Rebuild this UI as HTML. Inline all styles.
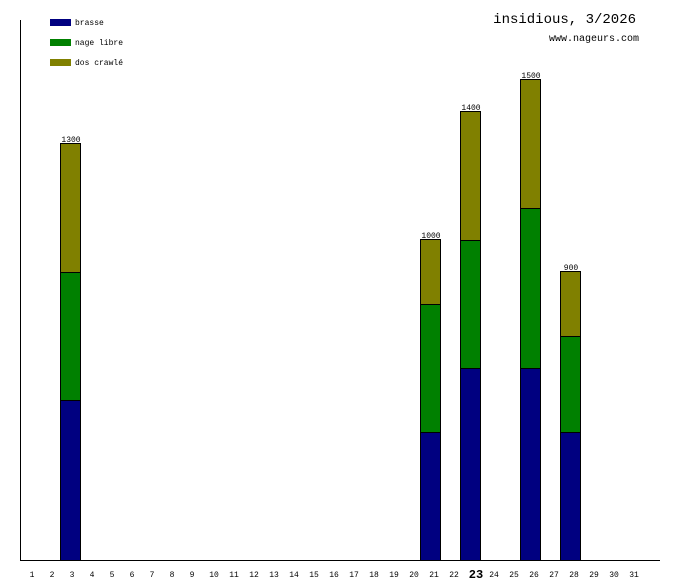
<!DOCTYPE html>
<html><head><style>body{margin:0;background:#fff}svg{display:block}</style></head><body>
<svg width="680" height="580" xmlns="http://www.w3.org/2000/svg" font-family="Liberation Mono, DejaVu Sans Mono, monospace" shape-rendering="crispEdges">
<rect width="680" height="580" fill="#fff"/>
<line x1="20.5" y1="20" x2="20.5" y2="560" stroke="#000"/>
<line x1="20" y1="560.5" x2="660" y2="560.5" stroke="#000"/>
<rect x="50" y="19" width="21" height="7" fill="#000080"/>
<rect x="50" y="39" width="21" height="7" fill="#008000"/>
<rect x="50" y="59" width="21" height="7" fill="#808000"/>
<g font-size="8" fill="#000">
<text x="75" y="25">brasse</text>
<text x="75" y="45">nage libre</text>
<text x="75" y="65">dos crawlé</text>
</g>
<text x="636" y="23" font-size="14" text-anchor="end">insidious, 3/2026</text>
<text x="639" y="41" font-size="10" text-anchor="end">www.nageurs.com</text>
<g stroke="#000" stroke-width="1">
<rect x="60.5" y="400.5" width="20" height="160" fill="#000080"/>
<rect x="60.5" y="272.5" width="20" height="128" fill="#008000"/>
<rect x="60.5" y="143.5" width="20" height="129" fill="#808000"/>
<rect x="420.5" y="432.5" width="20" height="128" fill="#000080"/>
<rect x="420.5" y="304.5" width="20" height="128" fill="#008000"/>
<rect x="420.5" y="239.5" width="20" height="65" fill="#808000"/>
<rect x="460.5" y="368.5" width="20" height="192" fill="#000080"/>
<rect x="460.5" y="240.5" width="20" height="128" fill="#008000"/>
<rect x="460.5" y="111.5" width="20" height="129" fill="#808000"/>
<rect x="520.5" y="368.5" width="20" height="192" fill="#000080"/>
<rect x="520.5" y="208.5" width="20" height="160" fill="#008000"/>
<rect x="520.5" y="79.5" width="20" height="129" fill="#808000"/>
<rect x="560.5" y="432.5" width="20" height="128" fill="#000080"/>
<rect x="560.5" y="336.5" width="20" height="96" fill="#008000"/>
<rect x="560.5" y="271.5" width="20" height="65" fill="#808000"/>
</g>
<g font-size="8" text-anchor="middle" fill="#000">
<text x="71" y="142">1300</text>
<text x="431" y="238">1000</text>
<text x="471" y="110">1400</text>
<text x="531" y="78">1500</text>
<text x="571" y="270">900</text>
</g>
<g font-size="8" text-anchor="middle" fill="#000">
<text x="32" y="577">1</text><text x="52" y="577">2</text><text x="72" y="577">3</text><text x="92" y="577">4</text><text x="112" y="577">5</text><text x="132" y="577">6</text><text x="152" y="577">7</text><text x="172" y="577">8</text><text x="192" y="577">9</text><text x="214" y="577">10</text><text x="234" y="577">11</text><text x="254" y="577">12</text><text x="274" y="577">13</text><text x="294" y="577">14</text><text x="314" y="577">15</text><text x="334" y="577">16</text><text x="354" y="577">17</text><text x="374" y="577">18</text><text x="394" y="577">19</text><text x="414" y="577">20</text><text x="434" y="577">21</text><text x="454" y="577">22</text><text x="476" y="578" font-size="12" font-weight="bold">23</text><text x="494" y="577">24</text><text x="514" y="577">25</text><text x="534" y="577">26</text><text x="554" y="577">27</text><text x="574" y="577">28</text><text x="594" y="577">29</text><text x="614" y="577">30</text><text x="634" y="577">31</text>
</g>
</svg>
</body></html>
